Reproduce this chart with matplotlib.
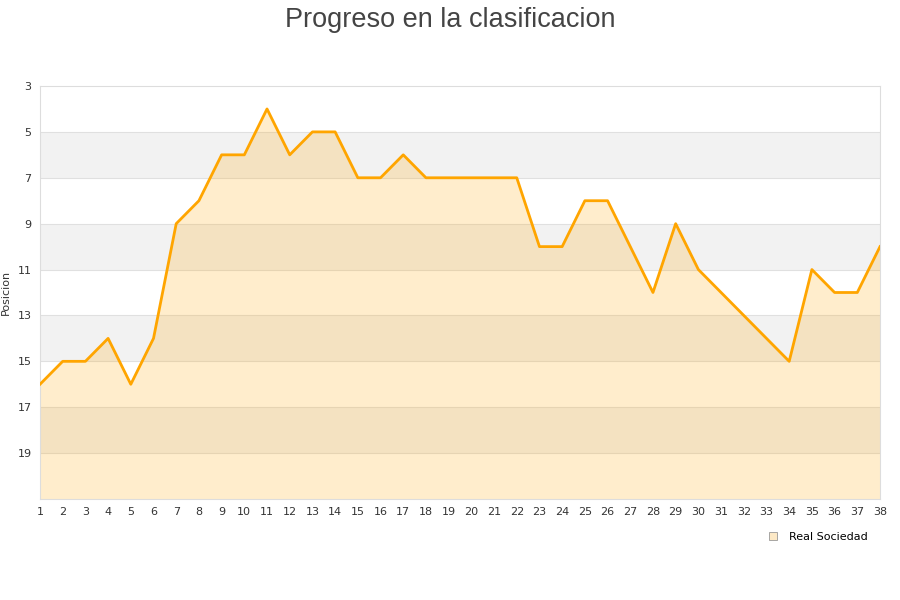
import matplotlib.pyplot as plt

jornadas = list(range(1, 39))
posicion = [16, 15, 15, 14, 16, 14, 9, 8, 6, 6, 4, 6, 5, 5, 7, 7, 6, 7, 7, 7,
            7, 7, 10, 10, 8, 8, 10, 12, 9, 11, 12, 13, 14, 15, 11, 12, 12, 10]
equipo = 'Real Sociedad'
y_ticks = [3, 5, 7, 9, 11, 13, 15, 17, 19]

fig = plt.figure(figsize=(9, 6), dpi=100)
ax = fig.add_axes([40 / 900, 1 - 499 / 600, 840 / 900, 413 / 600])

# bandas alternas
for i, y0 in enumerate(range(3, 21, 2)):
    if i % 2 == 1:
        ax.axhspan(y0, y0 + 2, color='#f2f2f2', zorder=0, lw=0)
for y in y_ticks[1:]:
    ax.axhline(y, color='#e0e0e0', lw=0.8, zorder=1)

ax.fill_between(jornadas, posicion, 21, color='#ffa500', alpha=0.2, lw=0, zorder=2)
ax.plot(jornadas, posicion, color='#ffa500', lw=2, zorder=3, label=equipo)

ax.set_xlim(1, 38)
ax.set_ylim(21, 3)
ax.set_xticks(jornadas)
ax.set_yticks(y_ticks)
ax.tick_params(length=0, labelsize=8, colors='#333333', pad=6)
for s in ax.spines.values():
    s.set_color('#dddddd')
ax.set_ylabel('Posicion', fontsize=8, color='#333333')
ax.yaxis.set_label_coords(-0.035, 0.5)

fig.text(0.5, 0.988, 'Progreso en la clasificacion', ha='center', va='top',
         fontsize=19.5, color='#444444', family='Liberation Sans')

handle = plt.Line2D([], [], marker='s', ls='', markersize=6,
                    markerfacecolor='#fde9c6', markeredgecolor='#999999', markeredgewidth=0.6)
fig.legend([handle], [equipo], loc='center right', bbox_to_anchor=(0.975, 1 - 537 / 600),
           frameon=False, fontsize=8, handletextpad=0.4)

fig.savefig('out.png', dpi=100)
